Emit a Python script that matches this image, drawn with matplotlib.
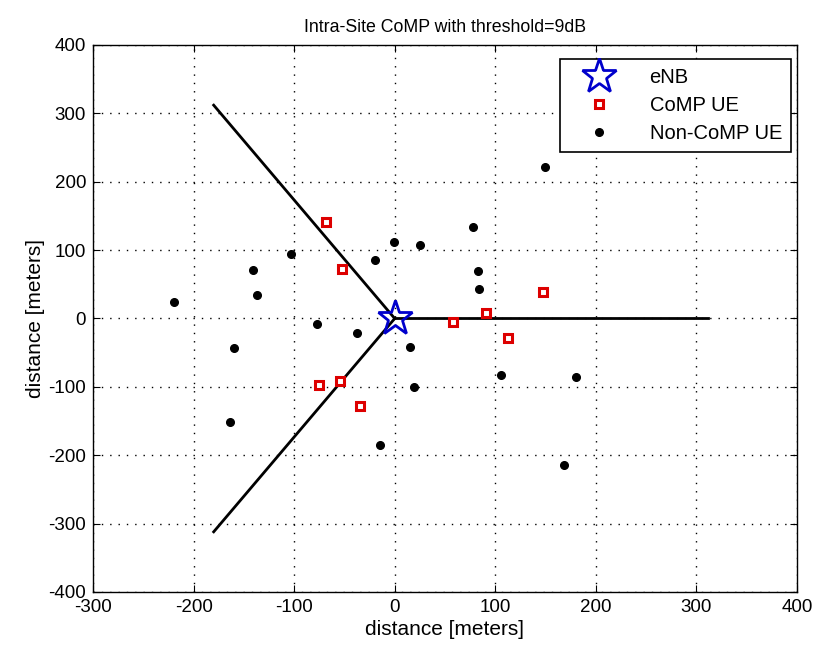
import matplotlib
matplotlib.use("Agg")
import matplotlib.pyplot as plt

plt.rcParams['font.family'] = ['Liberation Sans', 'DejaVu Sans']
plt.rcParams['axes.unicode_minus'] = False

# eNB position
enb_x = [0]
enb_y = [0]

# CoMP UEs
comp_x = [-68, -52, 58, 91, 147, 113, -75, -54, -35]
comp_y = [141, 73, -5, 8, 39, -28, -97, -92, -128]

# Non-CoMP UEs
noncomp_x = [-219, -141, -137, -103, -20, -1, 25, -77, 149, 78, 83, 84,
             106, 180, 168, -37, -160, 15, 19, -164, -15]
noncomp_y = [24, 71, 34, 95, 86, 112, 108, -8, 221, 134, 69, 43,
             -83, -86, -215, -21, -43, -41, -100, -152, -185]

# Sector boundary line endpoints
sector_x = [312, -180, -180]
sector_y = [0, 312, -312]

fig = plt.figure(figsize=(8.18, 6.55), dpi=100)
ax = fig.add_axes([0.1137, 0.0962, 0.8606, 0.8351])

for sx, sy in zip(sector_x, sector_y):
    ax.plot([0, sx], [0, sy], color='black', linewidth=2, zorder=2)

ax.plot(enb_x, enb_y, linestyle='none', marker='*', markersize=26,
        markerfacecolor='none', markeredgecolor='#0000cc', markeredgewidth=2,
        label='eNB', zorder=4)
ax.plot(comp_x, comp_y, linestyle='none', marker='s', markersize=6,
        markerfacecolor='white', markeredgecolor='#dd0000', markeredgewidth=2.2,
        label='CoMP UE', zorder=3)
ax.plot(noncomp_x, noncomp_y, linestyle='none', marker='.', markersize=11,
        color='black', label='Non-CoMP UE', zorder=3)

ax.set_xlim(-300, 400)
ax.set_ylim(-400, 400)
ax.set_xticks(range(-300, 401, 100))
ax.set_yticks(range(-400, 401, 100))
ax.grid(True, linestyle=(0, (1, 5)), color='black', linewidth=1.0)
ax.tick_params(direction='in', length=5, labelsize=13.5, top=True, right=True,
               labeltop=False, labelright=False, pad=5)
for s in ax.spines.values():
    s.set_linewidth(1.0)

ax.set_title('Intra-Site CoMP with threshold=9dB', fontsize=12.8, pad=9)
ax.set_xlabel('distance [meters]', fontsize=15, labelpad=3)
ax.set_ylabel('distance [meters]', fontsize=15, labelpad=2)

leg = ax.legend(loc='upper right', bbox_to_anchor=(0.9915, 0.9744), fontsize=14.5,
                frameon=True, fancybox=False, edgecolor='black', framealpha=1,
                borderpad=0.45, handlelength=3.0, handletextpad=1.0,
                labelspacing=0.45, borderaxespad=0)
leg.get_frame().set_linewidth(1.2)

fig.savefig('out.png', dpi=100)
